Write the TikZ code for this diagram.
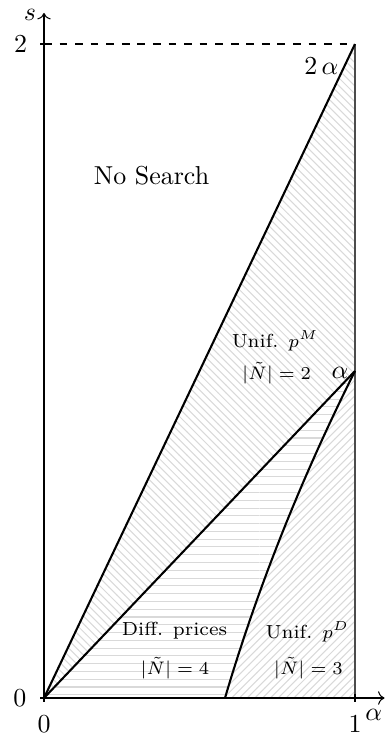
\documentclass[tikz,border=0pt]{standalone}
\usetikzlibrary{patterns,arrows.meta}
\begin{document}
\begin{tikzpicture}[x=4.214cm,y=4.431cm,
  axisline/.style={thin,->},
  bound/.style={thick,black},
  hatch/.style={pattern color=black!15},
  lbl/.style={inner sep=0pt},
  small/.style={inner sep=0pt,font=\fontsize{7.3}{8.5}\selectfont}]
\useasboundingbox (-0.1415,-0.1131) rectangle (1.0965,2.1346);
\coordinate (O) at (0,0);
\coordinate (A) at (1,0);
\coordinate (B) at (1,1);
\coordinate (C) at (1,2);
\coordinate (T) at (0,2);
\coordinate (D) at (0.582,0);
\coordinate (XE) at (1.095,0);
\coordinate (YE) at (0,2.095);
% fills
\fill[hatch,pattern=north west lines] (O) -- (C) -- (B) -- cycle;
\fill[hatch,pattern=horizontal lines] (O) -- (B)
  -- plot[domain=1:0,samples=40] ({0.582+0.31*\x+0.108*\x*\x},\x) -- cycle;
\fill[hatch,pattern=north east lines] (D)
  -- plot[domain=0:1,samples=40] ({0.582+0.31*\x+0.108*\x*\x},\x) -- (A) -- cycle;
% frame
\draw[thin,black!70] (A) -- (C);
\draw[thin,dashed] (T) -- (C);
\draw[axisline] (O) -- (XE);
\draw[axisline] (O) -- (YE);
\draw[thin] (0,-0.012) -- (0,0.012);
\draw[thin] (-0.012,0) -- (0.012,0);
\draw[thin] (1,-0.012) -- (1,0.012);
\draw[thin] (-0.012,2) -- (0.012,2);
% boundaries
\draw[bound] (O) -- (C);
\draw[bound] (O) -- (B);
\draw[bound] plot[domain=0:1,samples=40] ({0.582+0.31*\x+0.108*\x*\x},\x);
% labels
\node[lbl] (ls) at (-0.045,2.089) {$s$};
\node[lbl] (l2) at (-0.0756,2.0) {$2$};
\node[lbl] (l0y) at (-0.078,0) {$0$};
\node[lbl] (l0x) at (0,-0.08) {$0$};
\node[lbl] (l1x) at (1,-0.08) {$1$};
\node[lbl] (la) at (1.06,-0.052) {$\alpha$};
\node[lbl] (l2a) at (0.892,1.933) {$2\,\alpha$};
\node[lbl] (lb) at (0.952,0.995) {$\alpha$};
\node[lbl] (ns) at (0.3457,1.596) {No Search};
\node[small] (um) at (0.743,1.092) {Unif. $p^M$};
\node[small] (n2) at (0.748,0.994) {$|\tilde{N}|=2$};
\node[small] (dp) at (0.42,0.205) {Diff. prices};
\node[small] (n4) at (0.421,0.092) {$|\tilde{N}|=4$};
\node[small] (ud) at (0.847,0.202) {Unif. $p^D$};
\node[small] (n3) at (0.85,0.092) {$|\tilde{N}|=3$};
\end{tikzpicture}
\end{document}
